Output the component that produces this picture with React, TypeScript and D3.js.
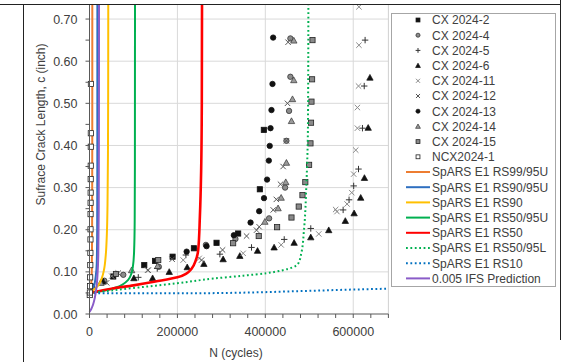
import * as d3 from "d3";

// ---- data (N cycles, c inch) ----
const cx2 = [[5700, 0.065], [54000, 0.089], [124600, 0.116], [149000, 0.126], [189000, 0.136], [237500, 0.156], [289000, 0.169], [338200, 0.191], [387500, 0.296], [396600, 0.437]];
const cx4 = [[33700, 0.079], [76900, 0.093], [157700, 0.112], [264800, 0.164], [332000, 0.178], [408600, 0.227], [445000, 0.3], [448000, 0.411], [454000, 0.482], [457000, 0.563], [457000, 0.654]];
const cx5 = [[111000, 0.087], [154100, 0.108], [219300, 0.14], [296600, 0.142], [368600, 0.158], [443000, 0.177], [503400, 0.203], [577000, 0.247], [590500, 0.271], [601000, 0.304], [612000, 0.344], [621000, 0.441], [625000, 0.541], [627000, 0.65]];
const cx6 = [[31400, 0.077], [101000, 0.085], [143600, 0.085], [181400, 0.1], [222300, 0.111], [260200, 0.119], [304000, 0.13], [342000, 0.138], [382300, 0.15], [420000, 0.158], [465500, 0.169], [503400, 0.182], [544300, 0.199], [582000, 0.221], [602000, 0.239], [617000, 0.276], [625500, 0.323], [634000, 0.442], [638000, 0.561]];
const cx11 = [[50400, 0.09], [132000, 0.104], [213200, 0.128], [249500, 0.132], [349600, 0.144], [436000, 0.164], [521600, 0.19], [560000, 0.248], [563000, 0.243], [586000, 0.261], [596600, 0.288], [601000, 0.332], [605700, 0.389], [609500, 0.441], [609500, 0.49], [612000, 0.541], [613000, 0.638], [613000, 0.729]];
const cx12 = [[39000, 0.074], [65500, 0.097], [133600, 0.104], [188000, 0.13], [255000, 0.128], [302700, 0.152], [357300, 0.185], [380000, 0.199], [386000, 0.207], [418000, 0.247], [425000, 0.272], [434500, 0.308], [440500, 0.35], [448000, 0.411], [450400, 0.5], [451800, 0.645]];
const cx13 = [[221000, 0.148], [266300, 0.161], [328400, 0.187], [366400, 0.217], [386000, 0.244], [397000, 0.275], [404000, 0.319], [408000, 0.364], [410000, 0.399], [411800, 0.441], [414000, 0.484], [416300, 0.546], [417800, 0.656]];
const cx14 = [[25400, 0.074], [95900, 0.104], [155000, 0.114], [399000, 0.219], [429000, 0.251], [436000, 0.276], [446500, 0.313], [448000, 0.359], [459500, 0.458], [461800, 0.51], [464800, 0.555], [464800, 0.649]];
const cx15 = [[60200, 0.095], [156400, 0.128], [326800, 0.168], [385000, 0.185], [426800, 0.206], [459500, 0.229], [476000, 0.255], [484500, 0.282], [491000, 0.313], [499600, 0.354], [502700, 0.405], [504000, 0.454], [505000, 0.504], [506400, 0.557], [507300, 0.65]];
const ncx1 = [[600, 0.045], [900, 0.051], [1200, 0.066], [1500, 0.087], [1800, 0.116], [2000, 0.145], [2200, 0.177], [2300, 0.201], [2400, 0.237], [2500, 0.264], [2600, 0.288], [2700, 0.32], [2800, 0.352], [2900, 0.397], [3000, 0.429], [3200, 0.546]];

const rs99_95u = [[0, 0.05], [2500, 0.058], [4200, 0.075], [5300, 0.11], [6000, 0.22], [6300, 0.4], [6400, 0.76]];
const rs90_95u = [[0, 0.05], [5000, 0.055], [10000, 0.066], [14000, 0.088], [16500, 0.12], [17500, 0.2], [17800, 0.35], [17900, 0.76]];
const rs90 = [[0, 0.05], [10000, 0.058], [20000, 0.068], [28000, 0.085], [33000, 0.105], [37000, 0.14], [39500, 0.19], [41000, 0.26], [42000, 0.38], [42500, 0.55], [42700, 0.76]];
const rs50_95u = [[0, 0.05], [20000, 0.053], [40000, 0.057], [60000, 0.063], [75000, 0.07], [88000, 0.081], [95000, 0.095], [99000, 0.115], [101500, 0.15], [102800, 0.22], [103300, 0.35], [103500, 0.76]];
const rs50 = [[0, 0.05], [50000, 0.06], [100000, 0.068], [150000, 0.077], [200000, 0.087], [221000, 0.0965], [232000, 0.107], [242000, 0.128], [247300, 0.152], [251100, 0.231], [254000, 0.34], [255500, 0.5], [256000, 0.76]];
const rs50_95l = [[0, 0.05], [50000, 0.056], [130000, 0.065], [200000, 0.073], [281000, 0.084], [350000, 0.091], [403000, 0.097], [440000, 0.104], [463000, 0.111], [475000, 0.12], [482000, 0.145], [488000, 0.2], [493500, 0.31], [497000, 0.45], [498000, 0.76]];
const rs10 = [[0, 0.049], [200000, 0.049], [365000, 0.051], [500000, 0.055], [600000, 0.058], [680000, 0.06]];
const ifs005 = [[0, 0.005], [4000, 0.012], [8000, 0.022], [12000, 0.038], [15500, 0.06], [18000, 0.09], [20000, 0.14], [21000, 0.25], [21500, 0.45], [21600, 0.76]];

const yTickLabels = ["0.00", "0.10", "0.20", "0.30", "0.40", "0.50", "0.60", "0.70"];
const xTickLabels = ["0", "200000", "400000", "600000"];

const scatter = [
  { name: "CX 2024-2", data: cx2, shape: "square", fill: "#111", stroke: "#111" },
  { name: "CX 2024-4", data: cx4, shape: "circle", fill: "#8c8c8c", stroke: "#333" },
  { name: "CX 2024-5", data: cx5, shape: "plus", fill: "none", stroke: "#333" },
  { name: "CX 2024-6", data: cx6, shape: "triangle", fill: "#111", stroke: "#111" },
  { name: "CX 2024-11", data: cx11, shape: "x", fill: "none", stroke: "#8a8a8a" },
  { name: "CX 2024-12", data: cx12, shape: "x", fill: "none", stroke: "#555" },
  { name: "CX 2024-13", data: cx13, shape: "circle", fill: "#111", stroke: "#111" },
  { name: "CX 2024-14", data: cx14, shape: "triangle", fill: "#9a9a9a", stroke: "#333" },
  { name: "CX 2024-15", data: cx15, shape: "square", fill: "#8a8a8a", stroke: "#222" },
  { name: "NCX2024-1", data: ncx1, shape: "square", fill: "#fff", stroke: "#222" },
];

const lines = [
  { name: "SpARS E1 RS99/95U", data: rs99_95u, color: "#ED7D31", dash: null },
  { name: "SpARS E1 RS90/95U", data: rs90_95u, color: "#2E6FC0", dash: null },
  { name: "SpARS E1 RS90", data: rs90, color: "#FFC000", dash: null },
  { name: "SpARS E1 RS50/95U", data: rs50_95u, color: "#00B050", dash: null },
  { name: "SpARS E1 RS50", data: rs50, color: "#FF0000", dash: null },
  { name: "SpARS E1 RS50/95L", data: rs50_95l, color: "#00B050", dash: "1.8,2.6" },
  { name: "SpARS E1 RS10", data: rs10, color: "#0070C0", dash: "1.8,2.6" },
  { name: "0.005 IFS Prediction", data: ifs005, color: "#8A5CC8", dash: null },
];

const W = 567, H = 362;
const PLOT = { left: 89.5, right: 388.4, top: 4.3, bottom: 314 };
const FONT = "'Liberation Sans', Arial, sans-serif";

function Marker({ shape, x, y, fill, stroke, s = 1 }) {
  if (shape === "square") {
    const h = 2.6 * s;
    return <rect x={x - h} y={y - h} width={2 * h} height={2 * h} fill={fill} stroke={stroke} strokeWidth={0.8} />;
  }
  if (shape === "circle") return <circle cx={x} cy={y} r={2.7 * s} fill={fill} stroke={stroke} strokeWidth={0.8} />;
  if (shape === "triangle") {
    const h = 3.2 * s;
    return <path d={`M${x},${y - h}L${x + h},${y + h * 0.8}L${x - h},${y + h * 0.8}Z`} fill={fill} stroke={stroke} strokeWidth={0.7} />;
  }
  if (shape === "plus") {
    const h = 3.2 * s;
    return <path d={`M${x - h},${y}H${x + h}M${x},${y - h}V${y + h}`} stroke={stroke} strokeWidth={1} fill="none" />;
  }
  const h = 2.7 * s;
  return <path d={`M${x - h},${y - h}L${x + h},${y + h}M${x - h},${y + h}L${x + h},${y - h}`} stroke={stroke} strokeWidth={1} fill="none" />;
}

export default function App() {
  const x = d3.scaleLinear().domain([0, 680000]).range([PLOT.left, PLOT.right]);
  const y = d3.scaleLinear().domain([0, 0.735]).range([PLOT.bottom, PLOT.top]);
  const line = d3.line<number[]>().x((d) => x(d[0])).y((d) => y(d[1])).curve(d3.curveMonotoneY);
  const lineX = d3.line<number[]>().x((d) => x(d[0])).y((d) => y(d[1])).curve(d3.curveMonotoneX);

  const yMajor = d3.range(0, 0.71, 0.1);
  const yMinor = d3.range(0, 0.72, 0.05);
  const xMajor = [0, 200000, 400000, 600000];
  const xMinor = d3.range(0, 680001, 40000);

  const legendItems = [...scatter.map((s) => ({ ...s, kind: "pt" })), ...lines.map((l) => ({ ...l, kind: "ln" }))];
  const ncx = scatter[scatter.length - 1];

  return (
    <svg width={W} height={H} style={{ position: "absolute", left: 0, top: 0, background: "#fff" }} fontFamily={FONT}>
      <defs>
        <clipPath id="plotClip">
          <rect x={PLOT.left - 4} y={PLOT.top} width={PLOT.right - PLOT.left + 5} height={PLOT.bottom - PLOT.top + 4} />
        </clipPath>
      </defs>

      {/* gridlines */}
      {yMajor.slice(1).map((v) => (
        <line key={"gy" + v} x1={PLOT.left} x2={PLOT.right} y1={y(v)} y2={y(v)} stroke="#d9d9d9" />
      ))}
      {xMajor.slice(1).map((v) => (
        <line key={"gx" + v} x1={x(v)} x2={x(v)} y1={PLOT.top} y2={PLOT.bottom} stroke="#d9d9d9" />
      ))}
      <line x1={PLOT.right} x2={PLOT.right} y1={PLOT.top} y2={PLOT.bottom} stroke="#d0d0d0" />

      <g clipPath="url(#plotClip)">
        {scatter.slice(0, -1).map((s) => (
          <g key={s.name}>
            {s.data.map((d, i) => (
              <Marker key={i} shape={s.shape} x={x(d[0])} y={y(d[1])} fill={s.fill} stroke={s.stroke} />
            ))}
          </g>
        ))}
        {lines.map((l) => (
          <path
            key={l.name}
            d={(l.name.includes("RS10") ? lineX : line)(l.data) || ""}
            fill="none"
            stroke={l.color}
            strokeWidth={l.name === "SpARS E1 RS50" ? 2.6 : 2}
            strokeDasharray={l.dash || undefined}
          />
        ))}
        {/* NCX squares sit over the steep curves */}
        {ncx.data.map((d, i) => (
          <Marker key={"n" + i} shape={ncx.shape} x={x(d[0])} y={y(d[1])} fill={ncx.fill} stroke={ncx.stroke} />
        ))}
      </g>

      {/* axes */}
      <line x1={PLOT.left} x2={PLOT.left} y1={PLOT.top} y2={PLOT.bottom} stroke="#595959" />
      <line x1={PLOT.left} x2={PLOT.right} y1={PLOT.bottom} y2={PLOT.bottom} stroke="#595959" />
      {yMinor.map((v) => (
        <line key={"ty" + v} x1={PLOT.left - 4} x2={PLOT.left} y1={y(v)} y2={y(v)} stroke="#595959" />
      ))}
      {xMinor.map((v) => (
        <line key={"tx" + v} x1={x(v)} x2={x(v)} y1={PLOT.bottom} y2={PLOT.bottom + 4} stroke="#595959" />
      ))}
      {yMajor.map((v, i) => (
        <text key={"ly" + i} x={PLOT.left - 12} y={y(v)} dy="0.36em" textAnchor="end" fontSize={12.5} fill="#404040">
          {yTickLabels[i]}
        </text>
      ))}
      {xMajor.map((v, i) => (
        <text key={"lx" + i} x={x(v)} y={336} textAnchor="middle" fontSize={12.5} fill="#404040">
          {xTickLabels[i]}
        </text>
      ))}
      <text transform="translate(45,124.5) rotate(-90)" textAnchor="middle" fontSize={12} fill="#404040">
        Sufrace Crack Length, c (inch)
      </text>
      <text x={236} y={357} textAnchor="middle" fontSize={12} fill="#404040">
        N (cycles)
      </text>

      {/* legend */}
      <rect x={391.5} y={13.5} width={164} height={273} fill="#fff" stroke="#a6a6a6" />
      {legendItems.map((it, i) => {
        const ly = 20 + i * 15.2;
        return (
          <g key={"lg" + it.name}>
            {it.kind === "pt" ? (
              <Marker shape={it.shape} x={418} y={ly} fill={it.fill} stroke={it.stroke} s={0.75} />
            ) : (
              <line x1={406} x2={430} y1={ly} y2={ly} stroke={it.color} strokeWidth={2} strokeDasharray={it.dash || undefined} />
            )}
            <text x={432} y={ly} dy="0.36em" fontSize={12} fill="#404040">
              {it.name}
            </text>
          </g>
        );
      })}

      {/* surrounding frame */}
      <line x1={0} x2={560.5} y1={4.5} y2={4.5} stroke="#222" />
      <line x1={23.5} x2={23.5} y1={4.5} y2={H} stroke="#222" />
      <line x1={560.5} x2={560.5} y1={0} y2={340} stroke="#222" />
    </svg>
  );
}
